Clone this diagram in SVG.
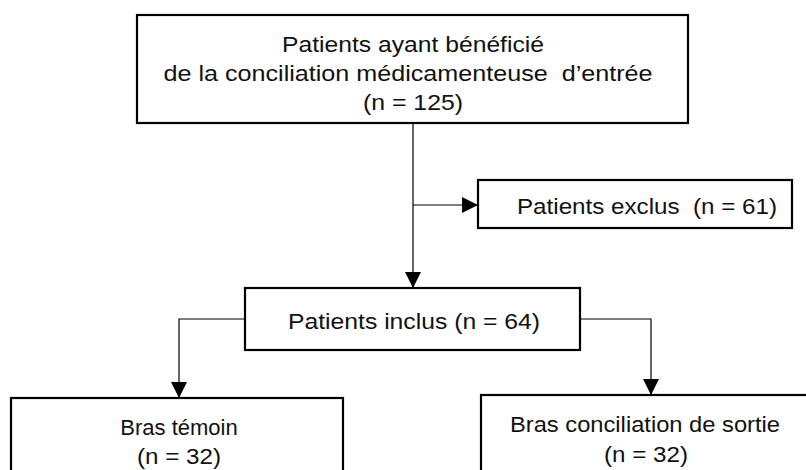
<svg xmlns="http://www.w3.org/2000/svg" width="806" height="470" viewBox="0 0 806 470">
<defs>
<marker id="arr" viewBox="0 0 16 16" refX="16" refY="8" markerWidth="16" markerHeight="16" markerUnits="userSpaceOnUse" orient="auto">
<path d="M0,0 L16,8 L0,16 Z" fill="#000"/>
</marker>
</defs>
<style>
.box{fill:#fff;stroke:#000;stroke-width:2.2}
.t{font-family:"Liberation Sans",Arial,sans-serif;font-size:22px;fill:#111;text-anchor:middle}
.c{fill:none;stroke:#000;stroke-width:1.2}
</style>
<rect width="806" height="470" fill="#fff"/>
<g id="connectors">
<path class="c" d="M413,123 V288" marker-end="url(#arr)"/>
<path class="c" d="M413,205 H478" marker-end="url(#arr)"/>
<path class="c" d="M245,319 H179 V398" marker-end="url(#arr)"/>
<path class="c" d="M580,319 H651 V395" marker-end="url(#arr)"/>
</g>
<g id="n-top">
<rect class="box" x="137" y="15" width="551" height="108"/>
<text class="t" x="413" y="52" textLength="262" lengthAdjust="spacingAndGlyphs">Patients ayant bénéficié</text>
<text class="t" x="408" y="81" textLength="489" lengthAdjust="spacingAndGlyphs" xml:space="preserve">de la conciliation médicamenteuse  d’entrée</text>
<text class="t" x="413" y="110" textLength="100" lengthAdjust="spacingAndGlyphs">(n = 125)</text>
</g>
<g id="n-exclus">
<rect class="box" x="478" y="180" width="314" height="48"/>
<text class="t" x="647" y="214" textLength="260" lengthAdjust="spacingAndGlyphs" xml:space="preserve">Patients exclus  (n = 61)</text>
</g>
<g id="n-inclus">
<rect class="box" x="245" y="288" width="335" height="62"/>
<text class="t" x="414" y="329" textLength="252" lengthAdjust="spacingAndGlyphs">Patients inclus (n = 64)</text>
</g>
<g id="n-temoin">
<rect class="box" x="11" y="398" width="332" height="90"/>
<text class="t" x="179" y="435">Bras témoin</text>
<text class="t" x="179" y="464" textLength="84" lengthAdjust="spacingAndGlyphs">(n = 32)</text>
</g>
<g id="n-sortie">
<rect class="box" x="481" y="395" width="340" height="90"/>
<text class="t" x="645" y="432" textLength="270" lengthAdjust="spacingAndGlyphs">Bras conciliation de sortie</text>
<text class="t" x="646" y="462" textLength="84" lengthAdjust="spacingAndGlyphs">(n = 32)</text>
</g>
</svg>
